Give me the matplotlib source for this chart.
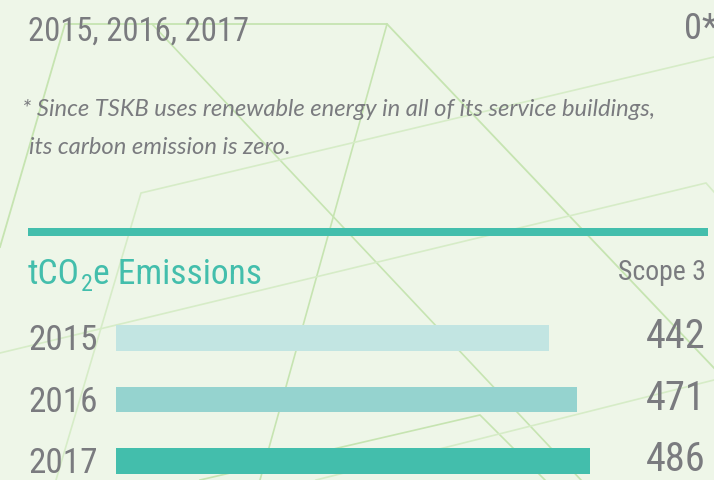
import matplotlib
matplotlib.use("Agg")
import matplotlib.pyplot as plt
from matplotlib import transforms
from matplotlib import font_manager as fm
from matplotlib.patches import Rectangle

# ---- data ----
years = ["2015", "2016", "2017"]
scope3 = [442, 471, 486]
bar_colors = ["#C2E5E2", "#95D3CF", "#43BEAC"]
period_label = "2015, 2016, 2017"
period_value = "0*"
footnote_1 = "* Since TSKB uses renewable energy in all of its service buildings,"
footnote_2 = "its carbon emission is zero."
title_parts = ("tCO", "2", "e Emissions")
scope_label = "Scope 3"

# ---- style ----
BG = "#EEF6E8"
GRAY = "#7A7B7F"
TEAL = "#43BEAC"


def condensed_font():
    """Pick a regular-weight narrow sans face if one is installed."""
    prefs = ["roboto", "open sans", "noto sans", "liberation", "dejavu sans", "lato"]
    found = []
    for f in fm.fontManager.ttflist:
        key = (f.name + " " + f.fname).lower()
        narrow = ("condensed" in str(f.stretch).lower() or "narrow" in key
                  or "condensed" in key)
        if not narrow or f.style != "normal":
            continue
        if any(b in key for b in ("bold", "black", "light", "thin", "medium",
                                  "italic", "oblique", "mono", "extra", "semi")):
            continue
        rank = next((i for i, p in enumerate(prefs) if p in key), len(prefs))
        found.append((rank, f.fname))
    if found:
        found.sort()
        return fm.FontProperties(fname=found[0][1])
    return fm.FontProperties(family=["Roboto", "DejaVu Sans"])


COND = condensed_font()
ITAL = fm.FontProperties(family=["Lato", "DejaVu Sans"], style="italic")

W, H = 714, 480
fig = plt.figure(figsize=(W / 100, H / 100), dpi=100, facecolor=BG)
renderer = fig.canvas.get_renderer()


def fit(t, width_px, max_size):
    """Set a text's size, shrinking it if it would run past width_px."""
    t.set_fontsize(max_size)
    w = t.get_window_extent(renderer).width
    if w > width_px:
        t.set_fontsize(max_size * width_px / w)
    return t


# background canvas in pixel units (y grows downward)
bg = fig.add_axes([0, 0, 1, 1])
bg.set_xlim(0, W)
bg.set_ylim(H, 0)
bg.set_facecolor(BG)
bg.axis("off")

# decorative thin green strokes
strong = "#C6E4B1"
soft = "#D6ECC7"
strokes = [
    ([(0, 247), (65, 24), (387, 24), (714, 368)], strong, 1.3),
    ([(152, 24), (581, 480)], strong, 1.2),
    ([(387, 24), (260, 480)], strong, 1.2),
    ([(714, 57), (141, 193), (56, 480)], soft, 1.2),
    ([(0, 353), (706, 183), (714, 192)], soft, 1.2),
    ([(200, 480), (480, 415), (545, 480)], strong, 1.2),
    ([(316, 480), (714, 380)], soft, 1.2),
]
for pts, c, lw in strokes:
    xs, ys = zip(*pts)
    bg.plot(xs, ys, color=c, lw=lw, solid_joinstyle="miter", zorder=1)

# header row
fit(bg.text(28, 41, period_label, fontproperties=COND, color=GRAY,
            ha="left", va="baseline", zorder=3), 222, 24.3)
bg.text(684, 39, period_value, fontproperties=COND, fontsize=26.3,
        color=GRAY, ha="left", va="baseline", zorder=3)

# footnote, sized so the first line spans the text column
fn1 = bg.text(22, 116, footnote_1, fontproperties=ITAL, fontsize=16,
              color=GRAY, ha="left", va="baseline", zorder=3)
fn2 = bg.text(29, 154, footnote_2, fontproperties=ITAL, fontsize=16,
              color=GRAY, ha="left", va="baseline", zorder=3)
size = 16 * 634 / fn1.get_window_extent(renderer).width
fn1.set_fontsize(size)
fn2.set_fontsize(size)

# teal divider
bg.add_patch(Rectangle((28, 228), 680, 7.5, color=TEAL, lw=0, zorder=3))

# section title with subscript 2, laid out piece by piece
t1 = bg.text(28, 284, title_parts[0], fontproperties=COND, color=TEAL,
             ha="left", va="baseline", zorder=3)
t3 = bg.text(0, 284, title_parts[2], fontproperties=COND, color=TEAL,
             ha="left", va="baseline", zorder=3)
tsize = 27.3
t1.set_fontsize(tsize)
t3.set_fontsize(tsize)
total = (t1.get_window_extent(renderer).width
         + t3.get_window_extent(renderer).width + 0.42 * tsize * 100 / 72)
if total > 236:
    tsize *= 236 / total
t1.set_fontsize(tsize)
t3.set_fontsize(tsize)
x_sub = 28 + t1.get_window_extent(renderer).width + 0.5
t2 = bg.text(x_sub, 284 + 0.2 * tsize * 100 / 72, title_parts[1],
             fontproperties=COND, fontsize=tsize * 0.68, color=TEAL,
             ha="left", va="baseline", zorder=3)
t3.set_x(x_sub + t2.get_window_extent(renderer).width + 0.5)

fit(bg.text(706, 280, scope_label, fontproperties=COND, color=GRAY,
            ha="right", va="baseline", zorder=3), 88, 22.3)

# bar chart
ax = fig.add_axes([116 / W, 0, 474 / W, 180 / H])
ax.patch.set_alpha(0)
ax.set_xlim(0, 484)
ax.set_ylim(2.309, -0.618)
pos = list(range(len(years)))
ax.barh(pos, scope3, height=0.418, color=bar_colors, zorder=2)
ax.axis("off")

lab = transforms.blended_transform_factory(bg.transData, ax.transData)
for i, (yr, v) in enumerate(zip(years, scope3)):
    fit(ax.text(28, i + 0.2, yr, transform=lab, fontproperties=COND,
                color=GRAY, ha="left", va="baseline", clip_on=False), 70, 25.3)
    fit(ax.text(706, i + 0.17, f"{v}", transform=lab, fontproperties=COND,
                color=GRAY, ha="right", va="baseline", clip_on=False), 60, 29.4)

fig.savefig("out.png", dpi=100, facecolor=BG)
